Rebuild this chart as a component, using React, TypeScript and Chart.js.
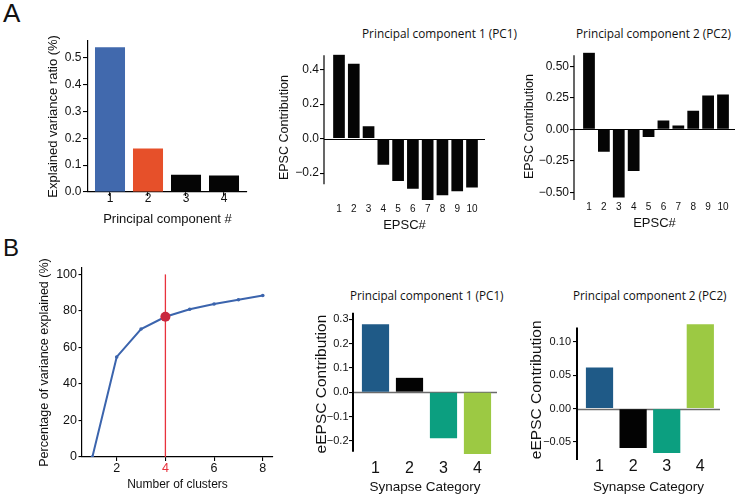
import React, { useEffect, useRef } from 'react';
import { Chart, registerables } from 'chart.js';

Chart.register(...registerables);

const FONT = "'Liberation Sans', Arial, Helvetica, sans-serif";
const TITLE_FONT = "'Open Sans', 'Noto Sans', sans-serif";

// ---------- Panel A: explained variance ----------
const pcNumbers = [1, 2, 3, 4];
const explainedVariance = [0.539, 0.162, 0.064, 0.061];
const explainedColors = ['#4169ad', '#e6502a', '#050505', '#050505'];
const explainedTicks = [0, 0.1, 0.2, 0.3, 0.4, 0.5];

// ---------- Panel A: EPSC contributions ----------
const epscNumbers = [1, 2, 3, 4, 5, 6, 7, 8, 9, 10];
const pc1Epsc = [0.486, 0.434, 0.072, -0.152, -0.246, -0.29, -0.356, -0.328, -0.305, -0.284];
const pc1EpscTicks = [-0.2, 0, 0.2, 0.4];
const pc2Epsc = [0.607, -0.177, -0.54, -0.33, -0.06, 0.07, 0.031, 0.148, 0.268, 0.276];
const pc2EpscTicks = [-0.5, -0.25, 0, 0.25, 0.5];

// ---------- Panel B: clusters ----------
const clusterCounts = [1, 2, 3, 4, 5, 6, 7, 8];
const varianceExplained = [0, 54.8, 70.1, 76.8, 80.9, 83.8, 86.1, 88.4];
const chosenClusters = 4;
const markerSpan = [0, 100];
const clusterYTicks = [0, 20, 40, 60, 80, 100];
const clusterXTicks = [2, 4, 6, 8];

// ---------- Panel B: synapse categories ----------
const synapseCategories = [1, 2, 3, 4];
const synapseColors = ['#1f5a87', '#030303', '#0c9f80', '#9cc943'];
const pc1Synapse = [0.279, 0.059, -0.19, -0.254];
const pc1SynapseTicks = [-0.2, -0.1, 0, 0.1, 0.2, 0.3];
const pc2Synapse = [0.0616, -0.059, -0.0665, 0.1266];
const pc2SynapseTicks = [-0.05, 0, 0.05, 0.1];

const minus = (s: string) => s.replace('-', '\u2212');
const fmt = (d: number) => (v: number) => minus(Number(v).toFixed(d));

const segPlugin = {
  id: 'seg',
  beforeDatasetsDraw(chart: any, _a: any, opts: any) {
    if (!opts || !opts.zeroColor) return;
    const { ctx, chartArea, scales } = chart;
    const py = Math.round(scales.y.getPixelForValue(0)) + 0.5;
    ctx.save();
    ctx.strokeStyle = opts.zeroColor;
    ctx.lineWidth = opts.zeroWidth || 1;
    ctx.beginPath();
    ctx.moveTo(chartArea.left, py);
    ctx.lineTo(chartArea.right, py);
    ctx.stroke();
    ctx.restore();
  },
  afterDatasetsDraw(chart: any, _a: any, opts: any) {
    if (!opts || opts.yFrom === undefined) return;
    const { ctx, chartArea, scales } = chart;
    const x = chartArea.left;
    ctx.save();
    ctx.strokeStyle = opts.axisColor || '#000';
    ctx.lineWidth = opts.axisWidth || 1.2;
    ctx.beginPath();
    ctx.moveTo(x, scales.y.getPixelForValue(opts.yTo));
    ctx.lineTo(x, scales.y.getPixelForValue(opts.yFrom));
    ctx.stroke();
    ctx.restore();
  },
};

type AxisSpec = {
  min: number;
  max: number;
  ticks: number[];
  fmt: (v: number) => string;
  tickSize: number;
  tickLen: number;
  tickPad: number;
  title: string;
  titleSize: number;
  titlePad: number;
  border: boolean;
  borderWidth?: number;
  tickColor?: (ctx: any) => string;
};

function makeScale(a: AxisSpec, isY: boolean, fixed: number) {
  return {
    type: 'linear',
    min: a.min,
    max: a.max,
    offset: false,
    afterBuildTicks: (s: any) => {
      s.ticks = a.ticks.map((v) => ({ value: v }));
    },
    afterFit: (s: any) => {
      if (isY) s.width = fixed;
      else s.height = fixed;
    },
    border: { display: a.border, color: '#000', width: a.borderWidth || 1.2 },
    grid: {
      display: a.tickLen > 0,
      drawOnChartArea: false,
      drawTicks: a.tickLen > 0,
      tickLength: a.tickLen,
      color: '#000',
      lineWidth: 1.1,
      offset: false,
    },
    ticks: {
      autoSkip: false,
      maxRotation: 0,
      minRotation: 0,
      padding: a.tickPad,
      color: a.tickColor || '#111',
      font: { family: FONT, size: a.tickSize },
      callback: (v: any) => a.fmt(Number(v)),
    },
    title: {
      display: true,
      text: a.title,
      color: '#111',
      font: { family: FONT, size: a.titleSize },
      padding: isY ? { top: a.titlePad, bottom: 0 } : { top: 0, bottom: a.titlePad },
    },
  };
}

type BarSpec = {
  xs: number[];
  ys: number[];
  colors: string[] | string;
  barPct: number;
  x: AxisSpec;
  y: AxisSpec;
  wy: number;
  hx: number;
  seg?: any;
};

function barConfig(s: BarSpec): any {
  return {
    type: 'bar',
    data: {
      datasets: [
        {
          data: s.xs.map((x, i) => ({ x, y: s.ys[i] })),
          backgroundColor: s.colors,
          borderWidth: 0,
          barPercentage: s.barPct,
          categoryPercentage: 1,
        },
      ],
    },
    options: {
      animation: false,
      responsive: false,
      devicePixelRatio: 1,
      layout: { padding: { top: 6, right: 6, left: 0, bottom: 0 } },
      plugins: { legend: { display: false }, tooltip: { enabled: false }, title: { display: false }, seg: s.seg || {} },
      scales: {
        x: makeScale(s.x, false, s.hx),
        y: makeScale(s.y, true, s.wy),
      },
    },
    plugins: [segPlugin],
  };
}

const intFmt = (v: number) => String(Math.round(v));

const cfgA1 = () =>
  barConfig({
    xs: pcNumbers,
    ys: explainedVariance,
    colors: explainedColors,
    barPct: 0.79,
    wy: 48,
    hx: 35,
    x: { min: 0.421, max: 4.605, ticks: pcNumbers, fmt: intFmt, tickSize: 12, tickLen: 4, tickPad: -5, title: 'Principal component #', titleSize: 13, titlePad: 0, border: true },
    y: { min: 0, max: 0.5635, ticks: explainedTicks, fmt: fmt(1), tickSize: 12, tickLen: 5, tickPad: 1.5, title: 'Explained variance ratio (%)', titleSize: 13, titlePad: 5.5, border: true },
  });

const cfgA2 = () =>
  barConfig({
    xs: epscNumbers,
    ys: pc1Epsc,
    colors: '#050505',
    barPct: 0.79,
    wy: 54,
    hx: 32,
    x: { min: -0.015, max: 10.88, ticks: epscNumbers, fmt: intFmt, tickSize: 10, tickLen: 0, tickPad: 2.3, title: 'EPSC#', titleSize: 13, titlePad: 0, border: false },
    y: { min: -0.3617, max: 0.4897, ticks: pc1EpscTicks, fmt: fmt(1), tickSize: 12, tickLen: 4, tickPad: 1, title: 'EPSC Contribution', titleSize: 12.5, titlePad: 6.8, border: false },
    seg: { yFrom: -0.265, yTo: 0.484, axisColor: '#000', axisWidth: 1.2, zeroColor: '#000', zeroWidth: 1.2 },
  });

const cfgA3 = () =>
  barConfig({
    xs: epscNumbers,
    ys: pc2Epsc,
    colors: '#050505',
    barPct: 0.79,
    wy: 59,
    hx: 30,
    x: { min: -0.007, max: 10.806, ticks: epscNumbers, fmt: intFmt, tickSize: 10, tickLen: 0, tickPad: 0, title: 'EPSC#', titleSize: 13, titlePad: 0, border: false },
    y: { min: -0.568, max: 0.6117, ticks: pc2EpscTicks, fmt: fmt(2), tickSize: 12, tickLen: 4, tickPad: 1, title: 'EPSC Contribution', titleSize: 12.5, titlePad: 6.8, border: false },
    seg: { yFrom: -0.56, yTo: 0.588, axisColor: '#000', axisWidth: 1.2, zeroColor: '#000', zeroWidth: 1.2 },
  });

const cfgB2 = () =>
  barConfig({
    xs: synapseCategories,
    ys: pc1Synapse,
    colors: synapseColors,
    barPct: 0.8,
    wy: 45,
    hx: 40,
    x: { min: 0.338, max: 4.574, ticks: synapseCategories, fmt: intFmt, tickSize: 16, tickLen: 0, tickPad: 4, title: 'Synapse Category', titleSize: 13.5, titlePad: 0, border: false },
    y: { min: -0.2584, max: 0.3253, ticks: pc1SynapseTicks, fmt: fmt(1), tickSize: 11, tickLen: 4, tickPad: 0.5, title: 'eEPSC Contribution', titleSize: 15.5, titlePad: 4.4, border: false },
    seg: { yFrom: -0.245, yTo: 0.3265, axisColor: '#000', axisWidth: 2, zeroColor: '#6b6b6b', zeroWidth: 1.5 },
  });

const cfgB3 = () =>
  barConfig({
    xs: synapseCategories,
    ys: pc2Synapse,
    colors: synapseColors,
    barPct: 0.81,
    wy: 54,
    hx: 39,
    x: { min: 0.33, max: 4.586, ticks: synapseCategories, fmt: intFmt, tickSize: 16, tickLen: 0, tickPad: 1, title: 'Synapse Category', titleSize: 13.5, titlePad: 0, border: false },
    y: { min: -0.071, max: 0.1275, ticks: pc2SynapseTicks, fmt: fmt(2), tickSize: 11, tickLen: 4, tickPad: 2, title: 'eEPSC Contribution', titleSize: 15.5, titlePad: 4.4, border: false },
    seg: { yFrom: -0.077, yTo: 0.1216, axisColor: '#000', axisWidth: 2, zeroColor: '#6b6b6b', zeroWidth: 1.5 },
  });

const BLUE = '#3b64ad';
const RED_LINE = '#e8323c';
const RED_DOT = '#c9283e';

const cfgB1 = (): any => {
  const chosenIdx = clusterCounts.indexOf(chosenClusters);
  return {
    type: 'line',
    data: {
      datasets: [
        {
          data: [{ x: chosenClusters, y: varianceExplained[chosenIdx] }],
          showLine: false,
          pointRadius: 5,
          pointBackgroundColor: RED_DOT,
          pointBorderWidth: 0,
          borderColor: RED_DOT,
        },
        {
          data: clusterCounts.map((x, i) => ({ x, y: varianceExplained[i] })),
          borderColor: BLUE,
          borderWidth: 2,
          pointRadius: 1.8,
          pointBackgroundColor: BLUE,
          pointBorderWidth: 0,
          tension: 0,
        },
        {
          data: markerSpan.map((y) => ({ x: chosenClusters, y })),
          borderColor: RED_LINE,
          borderWidth: 1.3,
          pointRadius: 0,
        },
      ],
    },
    options: {
      animation: false,
      responsive: false,
      devicePixelRatio: 1,
      layout: { padding: { top: 6, right: 6, left: 0, bottom: 0 } },
      plugins: { legend: { display: false }, tooltip: { enabled: false } },
      scales: {
        x: makeScale(
          {
            min: 0.574,
            max: 8.42,
            ticks: clusterXTicks,
            fmt: intFmt,
            tickSize: 12.5,
            tickLen: 4,
            tickPad: 0,
            title: 'Number of clusters',
            titleSize: 12,
            titlePad: 0,
            border: true,
            tickColor: (c: any) => (c.tick && c.tick.value === chosenClusters ? RED_LINE : '#111'),
          },
          false,
          35
        ),
        y: makeScale(
          {
            min: 0,
            max: 103.5,
            ticks: clusterYTicks,
            fmt: intFmt,
            tickSize: 12.5,
            tickLen: 3.5,
            tickPad: 1.5,
            title: 'Percentage of variance explained (%)',
            titleSize: 12.5,
            titlePad: 5.5,
            border: true,
          },
          true,
          50
        ),
      },
    },
  };
};

function ChartBox(props: { left: number; top: number; width: number; height: number; config: () => any }) {
  const ref = useRef<HTMLCanvasElement>(null);
  useEffect(() => {
    const chart = new Chart(ref.current as HTMLCanvasElement, props.config());
    return () => chart.destroy();
  }, []);
  return (
    <canvas
      ref={ref}
      width={props.width}
      height={props.height}
      style={{ position: 'absolute', left: props.left, top: props.top, width: props.width, height: props.height, display: 'block' }}
    />
  );
}

function Label(props: { text: string; left: number; cy: number; size: number; family: string }) {
  return (
    <div
      style={{
        position: 'absolute',
        left: props.left,
        top: props.cy - props.size * 0.6,
        fontSize: props.size,
        lineHeight: `${props.size * 1.2}px`,
        fontFamily: props.family,
        color: '#111',
        whiteSpace: 'nowrap',
      }}
    >
      {props.text}
    </div>
  );
}

export default function App() {
  return (
    <div style={{ position: 'absolute', left: 0, top: 0, width: 754, height: 495, background: '#fff', overflow: 'hidden' }}>
      <Label text="A" left={3} cy={13.5} size={26} family={FONT} />
      <Label text="B" left={3} cy={248.5} size={24} family={FONT} />
      <Label text="Principal component 1 (PC1)" left={362} cy={33} size={11.8} family={TITLE_FONT} />
      <Label text="Principal component 2 (PC2)" left={576} cy={33} size={11.8} family={TITLE_FONT} />
      <Label text="Principal component 1 (PC1)" left={350} cy={295} size={11.7} family={TITLE_FONT} />
      <Label text="Principal component 2 (PC2)" left={573} cy={295} size={11.7} family={TITLE_FONT} />
      <ChartBox left={40} top={32} width={213} height={195} config={cfgA1} />
      <ChartBox left={270} top={46} width={221} height={187} config={cfgA2} />
      <ChartBox left={515} top={44} width={226} height={187} config={cfgA3} />
      <ChartBox left={32} top={259} width={247} height={233} config={cfgB1} />
      <ChartBox left={308} top={306} width={195} height={189} config={cfgB2} />
      <ChartBox left={523} top={315} width={203} height={180} config={cfgB3} />
    </div>
  );
}
